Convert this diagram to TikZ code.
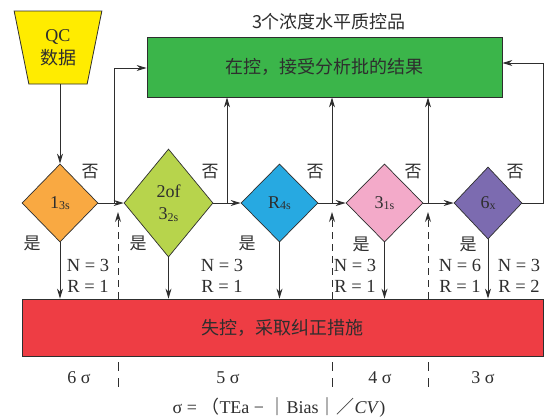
\documentclass[tikz,border=0pt]{standalone}
\usepackage{fontspec}
\setmainfont{Liberation Serif}
\newfontfamily\cjk{Noto Sans CJK SC}
\usetikzlibrary{shapes.geometric,arrows.meta}
\definecolor{ink}{HTML}{2E2E2E}
\definecolor{qcyellow}{RGB}{255,236,0}
\definecolor{okgreen}{RGB}{59,181,74}
\definecolor{failred}{RGB}{238,61,68}
\definecolor{dorange}{RGB}{249,169,66}
\definecolor{dlime}{RGB}{183,212,76}
\definecolor{dblue}{RGB}{39,169,225}
\definecolor{dpink}{RGB}{243,170,201}
\definecolor{dpurple}{RGB}{124,107,176}
\newcommand\dsub[1]{\raisebox{-1.5pt}{\fontsize{12}{12}\selectfont #1}}
\begin{document}
\begin{tikzpicture}[x=1pt,y=-1pt,
  every node/.style={text=ink},
  box/.style={draw=ink, line width=0.8pt, inner sep=0pt},
  cjkbig/.style={font=\fontsize{18}{20}\selectfont\cjk},
  dia/.style={diamond, draw=ink, line width=0.7pt, inner sep=0pt, aspect=1,
    align=center, font=\fontsize{18}{22}\selectfont},
  arr/.style={draw=ink, line width=1pt, -{Stealth[length=10pt,width=6pt]}},
  dasharr/.style={arr, dash pattern=on 7pt off 5pt},
  tick/.style={draw=ink, line width=1pt, dash pattern=on 9pt off 7pt},
  lab/.style={font=\fontsize{17}{17}\selectfont\cjk, inner sep=0pt},
  nr/.style={font=\fontsize{18.5}{21}\selectfont, align=center, inner sep=0pt},
  sig/.style={font=\fontsize{18}{18}\selectfont, inner sep=0pt},
]
\useasboundingbox (0,0) rectangle (546,418);

% title and boxes
\node[cjkbig, inner sep=0pt] (title) at (329,22) {3个浓度水平质控品};
\node[box, fill=okgreen, minimum width=355pt, minimum height=60pt, cjkbig] (ok) at (324.5,67) {在控，接受分析批的结果};
\node[box, fill=failred, minimum width=521pt, minimum height=57pt, cjkbig] (fail) at (282.5,327.5) {失控，采取纠正措施};

% QC data
\node[trapezium, trapezium stretches=true, shape border rotate=180, trapezium angle=76,
  minimum width=88pt, minimum height=73pt, fill=qcyellow, draw=ink, line width=0.8pt,
  inner sep=0pt, align=center, font=\fontsize{18}{23}\selectfont] (qc) at (58,47.5) {QC\\{\cjk 数据}};

% diamonds
\node[dia, fill=dorange, minimum width=76pt, minimum height=78pt] (d1) at (60,203) {1\dsub{3s}};
\node[dia, fill=dlime, minimum width=89pt, minimum height=108pt] (d2) at (168.5,203) {2of\\3\dsub{2s}};
\node[dia, fill=dblue, minimum width=77pt, minimum height=78pt] (d3) at (279.5,203) {R\dsub{4s}};
\node[dia, fill=dpink, minimum width=77pt, minimum height=78pt] (d4) at (384.5,203) {3\dsub{1s}};
\node[dia, fill=dpurple, minimum width=68pt, minimum height=72pt] (d5) at (488,203) {6\dsub{x}};

% junctions
\coordinate (j1) at (114,203);
\coordinate (j2) at (227,203);
\coordinate (j3) at (332,203);
\coordinate (j4) at (428,203);
\coordinate (j5) at (543,203);
\coordinate (u1) at (118,212);
\coordinate (u3) at (332,212);
\coordinate (u4) at (428,212);

% flow
\draw[arr] (d1.south |- qc.south) -- (d1.north);
\draw[arr] (d1.east) -- (d2.west);
\draw[arr] (d2.east) -- (d3.west);
\draw[arr] (d3.east) -- (d4.west);
\draw[arr] (d4.east) -- (d5.west);
\draw[arr] (j1) |- ([yshift=-1pt]ok.west);
\draw[arr] (j2) -- (j2 |- ok.south);
\draw[arr] (j3) -- (j3 |- ok.south);
\draw[arr] (j4) -- (j4 |- ok.south);
\draw[arr] (d5.east) -- (j5) |- ([yshift=4pt]ok.east);
\foreach \d in {d1,d2,d3,d4,d5}
  \draw[arr] (\d.south) -- (\d.south |- fail.north);
\draw[dasharr] (u1 |- fail.north) -- (u1);
\draw[dasharr] (u3 |- fail.north) -- (u3);
\draw[dasharr] (u4 |- fail.north) -- (u4);

% sigma separators
\foreach \u in {u1,u3,u4}
  \draw[tick] ([yshift=-6pt]fail.south -| \u) -- ++(0,26);

% labels
\node[lab] (n1) at (90,172) {否};
\node[lab] (n2) at (210,172) {否};
\node[lab] (n3) at (315,172) {否};
\node[lab] (n4) at (413,172) {否};
\node[lab] (n5) at (515,172) {否};
\node[lab] (y1) at (32,243) {是};
\node[lab] (y2) at (138,243) {是};
\node[lab] (y3) at (247,243) {是};
\node[lab] (y4) at (361,244) {是};
\node[lab] (y5) at (468,244) {是};

\node[nr] (r1) at (88,275.5) {N = 3\\R = 1};
\node[nr] (r2) at (222,275.5) {N = 3\\R = 1};
\node[nr] (r3) at (355,275.5) {N = 3\\R = 1};
\node[nr] (r4) at (460,275.5) {N = 6\\R = 1};
\node[nr] (r5) at (519,275.5) {N = 3\\R = 2};

\node[sig] (s6) at (79,378) {6 σ};
\node[sig] (s5) at (228,378) {5 σ};
\node[sig] (s4) at (380,378) {4 σ};
\node[sig] (s3) at (483,378) {3 σ};
\node[sig] (formula) at (279,407) {σ = {\cjk （}TEa − {\cjk ｜}Bias{\cjk ｜／}\textit{CV})};
\end{tikzpicture}
\end{document}
